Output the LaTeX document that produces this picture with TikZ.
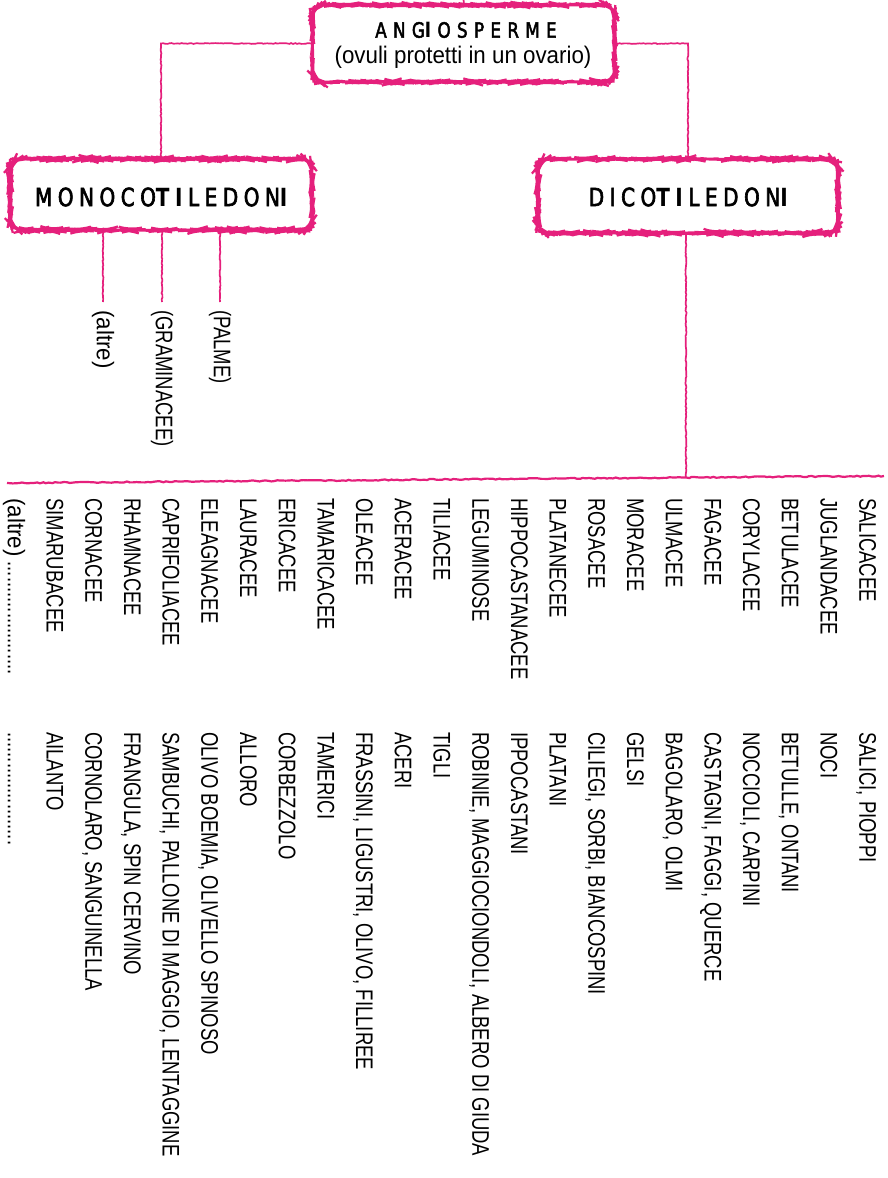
\documentclass[tikz,border=0pt]{standalone}
\usepackage{fontspec}
\setmainfont{Liberation Sans}
\newfontfamily\condfont[FakeStretch=0.77]{Liberation Sans}
\newfontfamily\lowfont[FakeStretch=0.93]{Liberation Sans}
\newfontfamily\headfont[FakeStretch=0.8,LetterSpace=22,FakeBold=2.5]{DejaVu Sans}
\newfontfamily\headB[FakeStretch=0.8,UprightFont={* Bold}]{DejaVu Sans}
\newfontfamily\headfontA[FakeStretch=0.8,LetterSpace=30,FakeBold=2.2]{DejaVu Sans}
\newfontfamily\headBA[FakeStretch=0.8,UprightFont={* Bold}]{DejaVu Sans}
\usetikzlibrary{decorations.pathmorphing,calc}
\definecolor{pinkline}{RGB}{229,32,124}
\newcommand\famcol[3]{%
  \node[famtext] (f#1) at ({16.5+38.7*#1-8.6},498) {#2};
  \node[famtext] (c#1) at ({16.5+38.7*#1-8.6},732) {#3};}
\newcommand\hb[1]{{\headB #1}\kern5.5pt}
\newcommand\hbA[1]{{\headBA #1}\kern6.3pt}
\begin{document}
\begin{tikzpicture}[x=1pt,y=-1pt,
  hbox/.style={draw=pinkline, line width=2.2pt, rounded corners=12pt, decorate,
    decoration={random steps,segment length=3pt,amplitude=0.55pt}, inner sep=0pt},
  conn/.style={draw=pinkline, line width=1.7pt, decorate,
    decoration={random steps,segment length=2pt,amplitude=0.45pt}},
  hline/.style={draw=pinkline, line width=2.2pt, decorate,
    decoration={random steps,segment length=3pt,amplitude=0.6pt}},
  famtext/.style={rotate=-90, anchor=base west, inner sep=0pt,
    font=\condfont\fontsize{24}{28}\selectfont},
  sublab/.style={rotate=-90, anchor=west, inner sep=0pt,
    font=\condfont\fontsize{24}{28}\selectfont},
  headtext/.style={inner sep=0pt, font=\fontsize{25}{28}\selectfont}
]
\useasboundingbox[fill=white] (0,0) rectangle (888,1178);

% boxes
\node[hbox, minimum width=302pt, minimum height=77pt] (angio) at (463.5,43.5) {};
\node[inner sep=0pt, font=\fontsize{21}{26}\selectfont] (angioT) at (466,30) {\headfontA ANG\hbA{I}\headfontA OSPERME};
\node[inner sep=0pt, font=\lowfont\fontsize{24}{28}\selectfont] (angioS) at (463,57) {(ovuli protetti in un ovario)};

\node[hbox, minimum width=302pt, minimum height=71pt] (mono) at (161,194.5) {};
\node[headtext] (monoT) at (164,197) {\headfont MONOCO\hb{T}\hb{I}\headfont LEDON\hb{I}};

\node[hbox, minimum width=300pt, minimum height=74pt] (dico) at (688,196) {};
\node[headtext] (dicoT) at (691,197) {\headfont DICO\hb{T}\hb{I}\headfont LEDON\hb{I}};

% top tick
\coordinate (top) at (463.5,0);
\draw[conn] (angio.north) -- (top);

% main connectors
\draw[conn] (angio.west) -| (mono.north);
\draw[conn] (angio.east) -| (dico.north);

% monocot sub labels
\node[sublab, font=\lowfont\fontsize{24}{28}\selectfont] (altre) at (103,310) {(altre)};
\node[sublab] (gram) at (162,310) {(GRAMINACEE)};
\node[sublab] (palme) at (220,310) {(PALME)};
\draw[conn] (mono.south -| altre.west) -- ($(altre.west)+(0,-8)$);
\draw[conn] (mono.south -| gram.west) -- ($(gram.west)+(0,-8)$);
\draw[conn] (mono.south -| palme.west) -- ($(palme.west)+(0,-8)$);

% dicot line
\coordinate (hL) at (7,483);
\coordinate (hJ) at (686,477.5);
\coordinate (hR) at (884,476);
\draw[conn] (dico.south -| hJ) -- (hJ);
\draw[hline] (hL) -- (hJ) -- (hR);

% families
\famcol{22}{SALICACEE}{SALICI, PIOPPI}
\famcol{21}{JUGLANDACEE}{NOCI}
\famcol{20}{BETULACEE}{BETULLE, ONTANI}
\famcol{19}{CORYLACEE}{NOCCIOLI, CARPINI}
\famcol{18}{FAGACEE}{CASTAGNI, FAGGI, QUERCE}
\famcol{17}{ULMACEE}{BAGOLARO, OLMI}
\famcol{16}{MORACEE}{GELSI}
\famcol{15}{ROSACEE}{CILIEGI, SORBI, BIANCOSPINI}
\famcol{14}{PLATANECEE}{PLATANI}
\famcol{13}{HIPPOCASTANACEE}{IPPOCASTANI}
\famcol{12}{LEGUMINOSE}{ROBINIE, MAGGIOCIONDOLI, ALBERO DI GIUDA}
\famcol{11}{TILIACEE}{TIGLI}
\famcol{10}{ACERACEE}{ACERI}
\famcol{9}{OLEACEE}{FRASSINI, LIGUSTRI, OLIVO, FILLIREE}
\famcol{8}{TAMARICACEE}{TAMERICI}
\famcol{7}{ERICACEE}{CORBEZZOLO}
\famcol{6}{LAURACEE}{ALLORO}
\famcol{5}{ELEAGNACEE}{OLIVO BOEMIA, OLIVELLO SPINOSO}
\famcol{4}{CAPRIFOLIACEE}{SAMBUCHI, PALLONE DI MAGGIO, LENTAGGINE}
\famcol{3}{RHAMNACEE}{FRANGULA, SPIN CERVINO}
\famcol{2}{CORNACEE}{CORNOLARO, SANGUINELLA}
\famcol{1}{SIMARUBACEE}{AILANTO}
\famcol{0}{{\lowfont(altre)} ......................}{......................}
\end{tikzpicture}
\end{document}
